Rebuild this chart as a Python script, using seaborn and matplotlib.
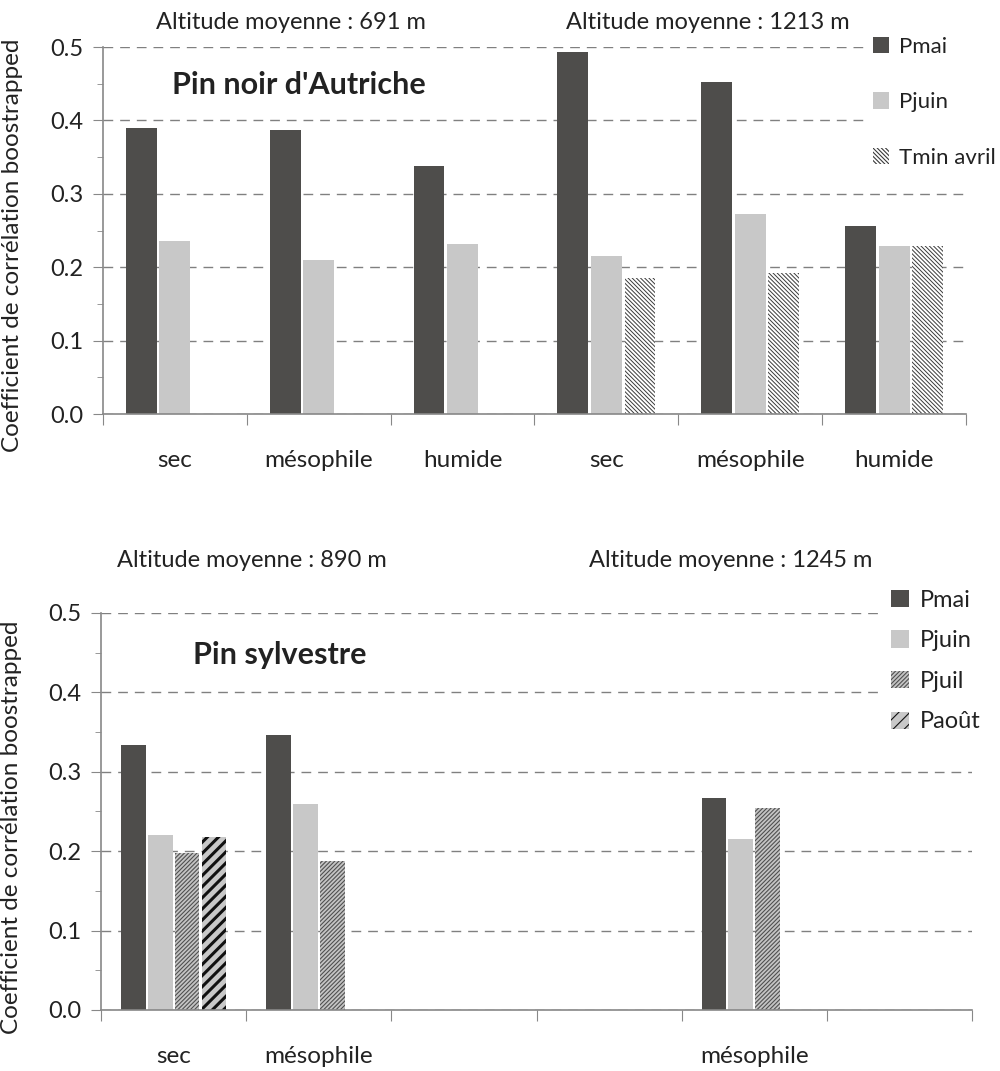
import numpy as np
import pandas as pd
import seaborn as sns
import matplotlib.pyplot as plt
from matplotlib.patches import Patch
from matplotlib.ticker import MultipleLocator, FormatStrFormatter

sns.set_style("white")
plt.rcParams['font.family'] = ['Lato', 'DejaVu Sans']
plt.rcParams['hatch.linewidth'] = 0.8

# Pin noir d'Autriche (691 m puis 1213 m)
noir_sites = ["691 sec", "691 mésophile", "691 humide", "1213 sec", "1213 mésophile", "1213 humide"]
noir_labels = ["sec", "mésophile", "humide", "sec", "mésophile", "humide"]
noir_pmai = [0.390, 0.387, 0.338, 0.493, 0.452, 0.256]
noir_pjuin = [0.236, 0.210, 0.232, 0.215, 0.272, 0.229]
noir_tmin_avril = [np.nan, np.nan, np.nan, 0.185, 0.192, 0.229]

# Pin sylvestre (890 m puis 1245 m)
sylv_sites = ["890 sec", "890 mésophile", "890 humide", "1245 sec", "1245 mésophile", "1245 humide"]
sylv_labels = ["sec", "mésophile", "", "", "mésophile", ""]
sylv_pmai = [0.334, 0.346, np.nan, np.nan, 0.267, np.nan]
sylv_pjuin = [0.220, 0.259, np.nan, np.nan, 0.215, np.nan]
sylv_pjuil = [0.198, 0.188, np.nan, np.nan, 0.254, np.nan]
sylv_paout = [0.218, np.nan, np.nan, np.nan, np.nan, np.nan]

# style per series: facecolor, hatch colour, hatch, hatch linewidth
STYLES = {
    "Pmai": ("#4e4d4b", "#4e4d4b", None, 0),
    "Pjuin": ("#c8c8c8", "#c8c8c8", None, 0),
    "Tmin avril": ("#ffffff", "#3a3a3a", "\\" * 8, 0.7),
    "Pjuil": ("#c4c4c4", "#505050", "/" * 8, 0.8),
    "Paoût": ("#c8c8c8", "#111111", "///", 2.2),
}
TXT = "#222222"


def style_patch(p, name):
    fc, ec, hatch, hlw = STYLES[name]
    p.set_edgecolor(ec)
    p.set_linewidth(0)
    if hatch:
        p.set_hatch(hatch)
        if hasattr(p, "set_hatch_linewidth"):
            p.set_hatch_linewidth(hlw)


def draw(ax, sites, labels, series, width, legend_pos, spacing, legend_size):
    names = list(series.keys())
    df = pd.DataFrame({
        "site": np.tile(sites, len(names)),
        "serie": np.repeat(names, len(sites)),
        "value": np.concatenate([series[n] for n in names]),
    })
    sns.barplot(data=df, x="site", y="value", hue="serie", order=sites,
                hue_order=names, palette=[STYLES[n][0] for n in names],
                width=width, gap=0.08, errorbar=None, saturation=1,
                legend=False, ax=ax)
    for name, cont in zip(names, ax.containers):
        for p in cont.patches:
            style_patch(p, name)

    ax.set_xlim(-0.5, len(sites) - 0.5)
    ax.set_ylim(0, 0.5)
    ax.set_xticks(np.arange(-0.5, len(sites), 1))
    ax.set_xticklabels([])
    ax.set_xticks(np.arange(len(sites)), minor=True)
    ax.set_xticklabels(labels, minor=True, fontsize=17.5, color=TXT)
    ax.tick_params(axis="x", which="major", length=8, color="#888888", direction="out", bottom=True)
    ax.tick_params(axis="x", which="minor", length=0, pad=26)
    ax.yaxis.set_major_locator(MultipleLocator(0.1))
    ax.yaxis.set_minor_locator(MultipleLocator(0.05))
    ax.yaxis.set_major_formatter(FormatStrFormatter("%.1f"))
    ax.tick_params(axis="y", which="major", length=7, color="#888888", direction="out",
                   left=True, labelsize=17, labelcolor=TXT, pad=7)
    ax.tick_params(axis="y", which="minor", length=4, color="#888888", direction="out", left=True)
    ax.yaxis.grid(True, which="major", linestyle=(0, (7, 5)), color="#808080", linewidth=1)
    ax.set_axisbelow(True)
    for s in ["top", "right"]:
        ax.spines[s].set_visible(False)
    for s in ["left", "bottom"]:
        ax.spines[s].set_color("#888888")
        ax.spines[s].set_linewidth(1.2)
    ax.set_xlabel("")
    ax.set_ylabel("Coefficient de corrélation boostrapped", fontsize=17.5, color=TXT)

    handles = []
    for n in names:
        h = Patch(facecolor=STYLES[n][0], label=n)
        style_patch(h, n)
        handles.append(h)
    leg = ax.figure.legend(handles=handles, loc="upper left", bbox_to_anchor=legend_pos,
                           frameon=True, fontsize=legend_size, handlelength=0.75,
                           handleheight=0.75, handletextpad=0.45, labelspacing=spacing,
                           borderpad=0.3, borderaxespad=0)
    leg.get_frame().set_facecolor("white")
    leg.get_frame().set_edgecolor("none")
    leg.get_frame().set_alpha(1)
    for t in leg.get_texts():
        t.set_color(TXT)


fig = plt.figure(figsize=(10, 10.71), dpi=100)
ax1 = fig.add_axes([0.103, 0.6134, 0.863, 0.3427])
ax2 = fig.add_axes([0.101, 0.057, 0.871, 0.3707])

draw(ax1, noir_sites, noir_labels,
     {"Pmai": noir_pmai, "Pjuin": noir_pjuin, "Tmin avril": noir_tmin_avril},
     0.70, (0.866, 0.972), 1.6, 16)
draw(ax2, sylv_sites, sylv_labels,
     {"Pmai": sylv_pmai, "Pjuin": sylv_pjuin, "Pjuil": sylv_pjuil, "Paoût": sylv_paout},
     0.74, (0.884, 0.456), 0.83, 17)
ax1.yaxis.set_label_coords(-0.093, 0.46)
ax2.yaxis.set_label_coords(-0.091, 0.46)

fig.text(0.291, 0.979, "Altitude moyenne : 691 m", ha="center", va="center", fontsize=17, color=TXT)
fig.text(0.708, 0.979, "Altitude moyenne : 1213 m", ha="center", va="center", fontsize=17, color=TXT)
fig.text(0.252, 0.477, "Altitude moyenne : 890 m", ha="center", va="center", fontsize=17, color=TXT)
fig.text(0.731, 0.477, "Altitude moyenne : 1245 m", ha="center", va="center", fontsize=17, color=TXT)
fig.text(0.299, 0.921, "Pin noir d'Autriche", ha="center", va="center", fontsize=22,
         fontweight="bold", color=TXT)
fig.text(0.280, 0.388, "Pin sylvestre", ha="center", va="center", fontsize=22,
         fontweight="bold", color=TXT)

fig.savefig("out.png", dpi=100)
